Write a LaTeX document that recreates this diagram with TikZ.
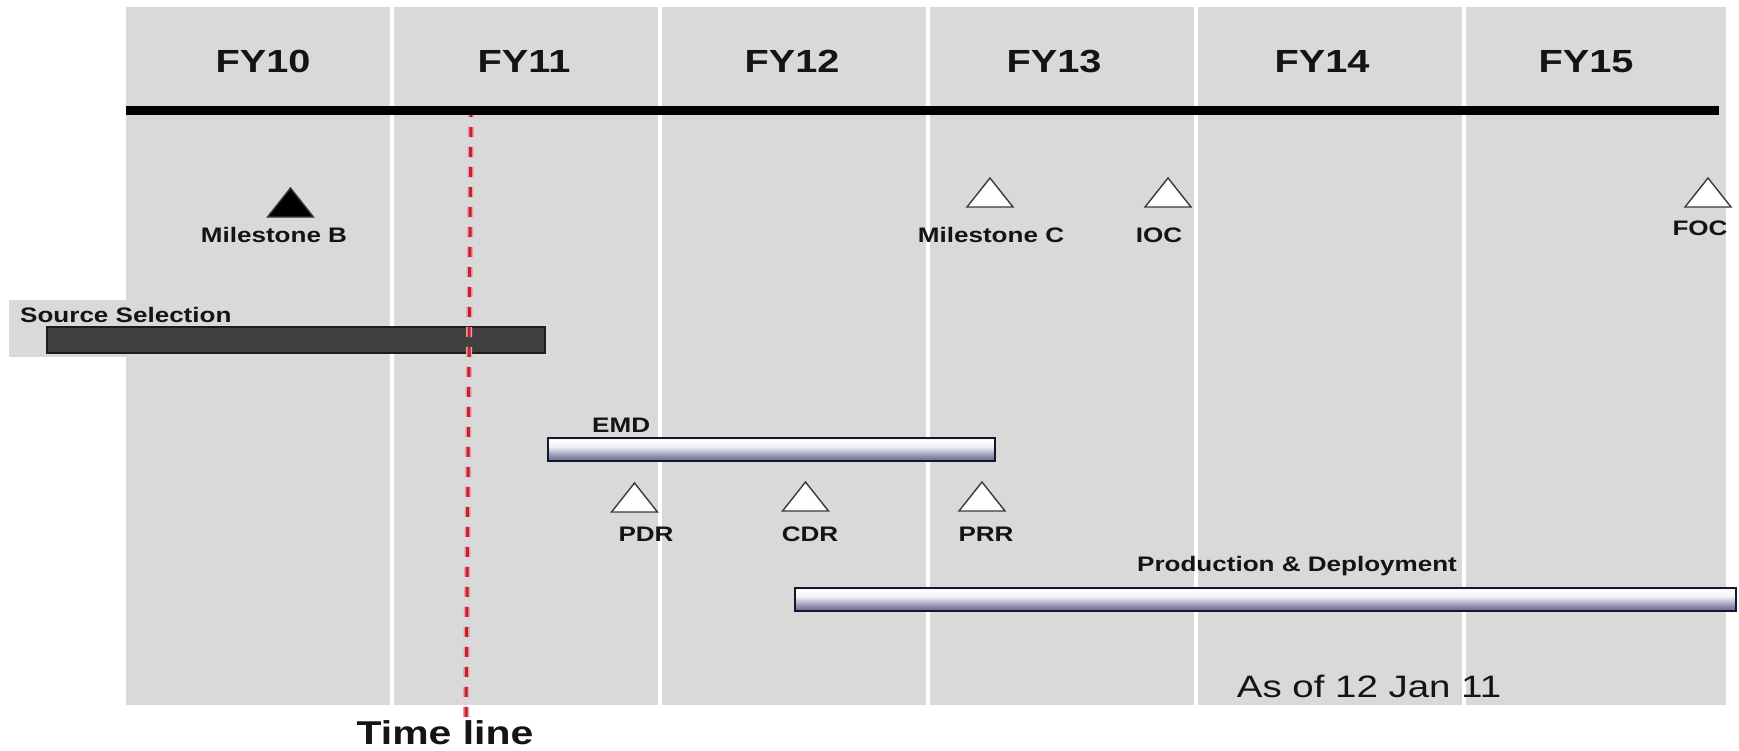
\documentclass[tikz,border=0pt]{standalone}
\usepackage{fontspec}
\setmainfont{Liberation Sans}[FakeStretch=1.24]

\definecolor{panel}{HTML}{D9D9D9}
\definecolor{txt}{HTML}{141414}
\definecolor{ssfill}{HTML}{404040}
\definecolor{ssedge}{HTML}{1C1C1C}
\definecolor{tlred}{HTML}{C4202E}
\definecolor{tlpink}{HTML}{EC9AA4}
\definecolor{triedge}{HTML}{3A3A3A}
\definecolor{barD}{HTML}{1A1A42}
\definecolor{barM}{HTML}{4A4A72}
\definecolor{barG}{HTML}{9A9AB6}
\definecolor{barL}{HTML}{F2F2F6}
\definecolor{barT}{HTML}{B8B8C8}
\definecolor{barE}{HTML}{3A3A55}
\definecolor{baredge}{HTML}{15152E}

% vertical gradient of the program bars (0bp = bottom edge)
\pgfdeclareverticalshading{barshade}{100bp}{%
  color(0bp)=(barD); color(18bp)=(barM); color(38bp)=(barG);
  color(56bp)=(barL); color(70bp)=(white); color(86bp)=(barT);
  color(100bp)=(barE)}

\tikzset{
  lbl/.style={font=\fontsize{21}{21}\selectfont\bfseries, text=txt,
              inner sep=0pt, anchor=base},
  yearlbl/.style={font=\fontsize{32}{32}\selectfont\bfseries, text=txt,
              inner sep=0pt, anchor=base},
  divider/.style={white, line width=4pt},
  gbar/.style={shading=barshade, draw=baredge, line width=1.5pt,
              inner sep=0pt, anchor=north west},
  ssbarstyle/.style={fill=ssfill, draw=ssedge, line width=1.5pt,
              inner sep=0pt, anchor=north west},
  miletri/.pic={\draw[line width=1.4pt, draw=triedge, fill=#1, line join=miter]
                (-23,0) -- (0,-29) -- (23,0) -- cycle;}
}

\begin{document}
\begin{tikzpicture}[x=1pt, y=-1pt]
\useasboundingbox (0,0) rectangle (1739,750);
\fill[white] (0,0) rectangle (1739,750);

% background panel and the grey tab behind the first label
\fill[panel] (126,7) rectangle (1726,705);
\fill[panel] (9,300) rectangle (126,357);

% fiscal-year column separators
\foreach \x in {392,660,928,1196,1464}
  \draw[divider] (\x,7) -- (\x,705);

% year header
\node[yearlbl] (fy10) at (263,72) {FY10};
\node[yearlbl] (fy11) at (524,72) {FY11};
\node[yearlbl] (fy12) at (792,72) {FY12};
\node[yearlbl] (fy13) at (1054,72) {FY13};
\node[yearlbl] (fy14) at (1322,72) {FY14};
\node[yearlbl] (fy15) at (1586,72) {FY15};

\coordinate (axisL) at (126,110.5);
\coordinate (axisR) at (1719,110.5);
\draw[black, line width=9pt] (axisL) -- (axisR);

% program phases
\node[ssbarstyle, minimum width=498pt, minimum height=26pt] (ssbar) at (46,326) {};
\node[lbl, anchor=base west] (sslbl) at (20,322) {Source Selection};

\node[gbar, minimum width=447pt, minimum height=23pt] (emdbar) at (547,437) {};
\node[lbl, anchor=base west] (emdlbl) at (592,432) {EMD};

\node[gbar, minimum width=941pt, minimum height=23pt] (pdbar) at (794,587) {};
\node[lbl] (pdlbl) at (1297,571) {Production \& Deployment};

% milestones
\pic (msB) at (290.5,217) {miletri=black};
\node[lbl] (msBlbl) at (274,242) {Milestone B};
\pic (msC) at (990,207) {miletri=white};
\node[lbl] (msClbl) at (991,242) {Milestone C};
\pic (ioc) at (1168,207) {miletri=white};
\node[lbl] (ioclbl) at (1159,242) {IOC};
\pic (foc) at (1708,207) {miletri=white};
\node[lbl] (foclbl) at (1700,235) {FOC};

\pic (pdr) at (634.5,512) {miletri=white};
\node[lbl] (pdrlbl) at (646,541) {PDR};
\pic (cdr) at (805.5,511) {miletri=white};
\node[lbl] (cdrlbl) at (810,541) {CDR};
\pic (prr) at (982,511) {miletri=white};
\node[lbl] (prrlbl) at (986,541) {PRR};

% current-date marker
\coordinate (nowT) at (471,115);
\coordinate (nowB) at (466,717);
\draw[tlpink, line width=6pt, dash pattern=on 10pt off 10pt, dash phase=8pt] (nowT) -- (nowB);
\draw[tlred, line width=3pt, dash pattern=on 10pt off 10pt, dash phase=8pt] (nowT) -- (nowB);
\node[font=\fontsize{33}{33}\selectfont\bfseries, text=txt, inner sep=0pt, anchor=base]
  (tllbl) at (445,744) {Time line};

\node[font=\fontsize{31}{31}\selectfont, text=txt, inner sep=0pt, anchor=base]
  (asof) at (1369,697) {As of 12 Jan 11};
\end{tikzpicture}
\end{document}
